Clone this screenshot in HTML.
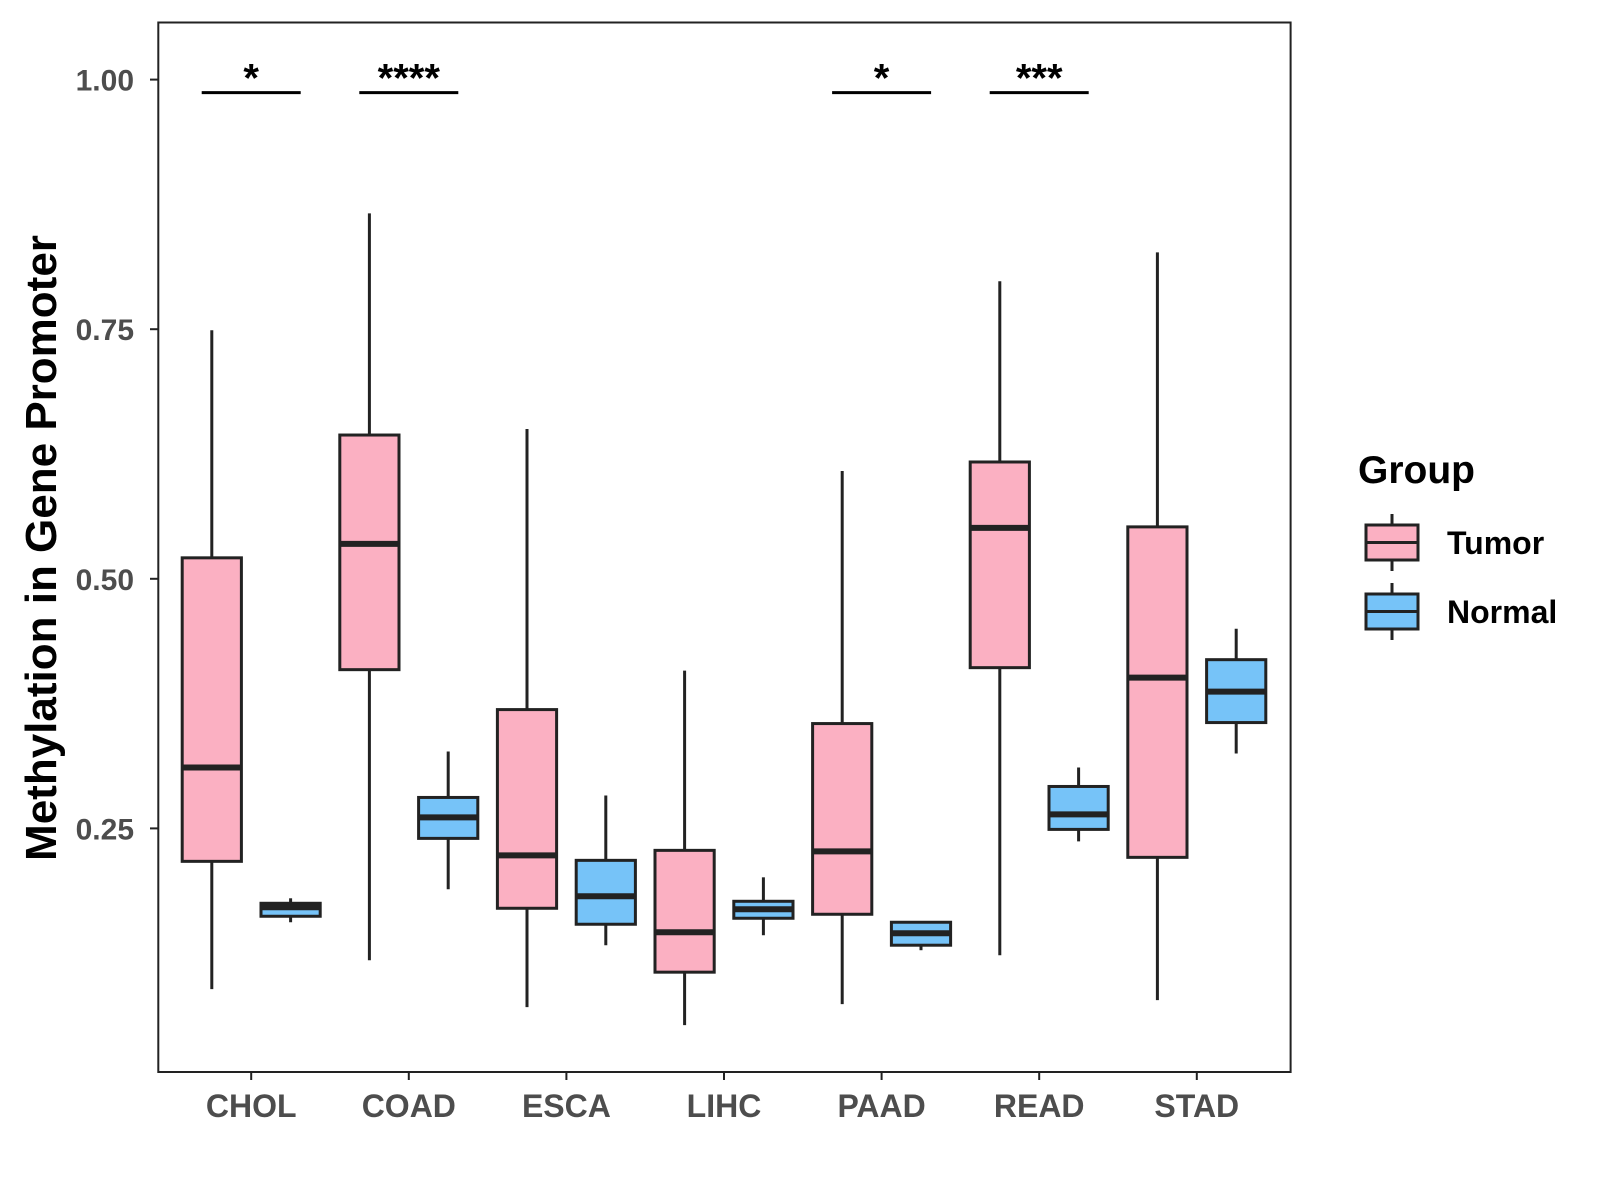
<!DOCTYPE html>
<html><head><meta charset="utf-8"><style>body{margin:0;background:#fff}svg{display:block}text{font-family:"Liberation Sans",Arial,sans-serif;font-weight:bold}</style></head>
<body>
<svg id="chart" width="1600" height="1200">
<rect x="158.3" y="22.5" width="1132.3" height="1049.5" fill="#fff" stroke="#222" stroke-width="2"/>
<g id="marks"></g>
<text transform="translate(56,548) rotate(-90)" text-anchor="middle" font-size="44" fill="#000">Methylation in Gene Promoter</text>
<g>
<text x="1358" y="483" font-size="39" fill="#000">Group</text>
<g>
<line x1="1392" y1="514" x2="1392" y2="571" stroke="#222" stroke-width="3"/>
<rect x="1366" y="525" width="52" height="35" fill="#FBB0C2" stroke="#222" stroke-width="3"/>
<line x1="1366" y1="542.5" x2="1418" y2="542.5" stroke="#222" stroke-width="3"/>
<text x="1447" y="554" font-size="32" fill="#000">Tumor</text></g>
<g>
<line x1="1392" y1="583" x2="1392" y2="640" stroke="#222" stroke-width="3"/>
<rect x="1366" y="594" width="52" height="35" fill="#76C3F8" stroke="#222" stroke-width="3"/>
<line x1="1366" y1="611.5" x2="1418" y2="611.5" stroke="#222" stroke-width="3"/>
<text x="1447" y="623" font-size="32" fill="#000">Normal</text></g>
</g>
</svg>
<script>
const categories=["CHOL","COAD","ESCA","LIHC","PAAD","READ","STAD"];
const tumorMin=[0.089,0.118,0.071,0.053,0.074,0.123,0.078];
const tumorQ1=[0.217,0.409,0.170,0.106,0.164,0.411,0.221];
const tumorMed=[0.311,0.535,0.223,0.146,0.227,0.551,0.401];
const tumorQ3=[0.521,0.644,0.369,0.228,0.355,0.617,0.552];
const tumorMax=[0.749,0.866,0.650,0.408,0.608,0.798,0.827];
const normalMin=[0.156,0.189,0.133,0.143,0.128,0.237,0.325];
const normalQ1=[0.162,0.240,0.154,0.160,0.133,0.249,0.356];
const normalMed=[0.171,0.261,0.182,0.169,0.145,0.264,0.387];
const normalQ3=[0.175,0.281,0.218,0.177,0.156,0.292,0.419];
const normalMax=[0.180,0.327,0.283,0.201,0.156,0.311,0.450];
const sigLabels=["*","****","","","*","***",""];
const yTicks=[0.25,0.5,0.75,1.0];
const yTickLabels=["0.25","0.50","0.75","1.00"];
const sigLevel=0.987;

const NS="http://www.w3.org/2000/svg";
const g=document.getElementById('marks');
function y(v){return 79.6+(1-v)*998.4;}
function x(i){return 251.2+i*157.6;}
function mk(t,a,p){const e=document.createElementNS(NS,t);for(const k in a)e.setAttribute(k,a[k]);(p||g).appendChild(e);return e;}
yTicks.forEach((v,i)=>{
 const t=mk('line',{x1:150,x2:158.3,y1:y(v),y2:y(v),stroke:'#222','stroke-width':2});
 
 
 const l=mk('text',{x:134,y:y(v)+11,'text-anchor':'end','font-size':30,fill:'#4d4d4d'});
 l.textContent=yTickLabels[i];
 
 
});
categories.forEach((c,i)=>{
 const t=mk('line',{x1:x(i),x2:x(i),y1:1072,y2:1080,stroke:'#222','stroke-width':2});
 
 
 const l=mk('text',{x:x(i),y:1117,'text-anchor':'middle','font-size':32,fill:'#4d4d4d'});
 l.textContent=c;
 
 
 const groups=[[-39.4,'#FBB0C2',tumorMin,tumorQ1,tumorMed,tumorQ3,tumorMax,'tumor'],[39.4,'#76C3F8',normalMin,normalQ1,normalMed,normalQ3,normalMax,'normal']];
 groups.forEach(gr=>{
  const cx=x(i)+gr[0];
  const bg=mk('g',{});
  
  
  mk('line',{x1:cx,x2:cx,y1:y(gr[6][i]),y2:y(gr[2][i]),stroke:'#222','stroke-width':3},bg);
  mk('rect',{x:cx-29.6,y:y(gr[5][i]),width:59.2,height:y(gr[3][i])-y(gr[5][i]),fill:gr[1],stroke:'#222','stroke-width':3},bg);
  mk('line',{x1:cx-29.6,x2:cx+29.6,y1:y(gr[4][i]),y2:y(gr[4][i]),stroke:'#222','stroke-width':6},bg);
 });
 if(sigLabels[i]){
  const s=mk('g',{});
  
  
  mk('line',{x1:x(i)-49.5,x2:x(i)+49.5,y1:y(sigLevel),y2:y(sigLevel),stroke:'#000','stroke-width':3},s);
  const st=mk('text',{x:x(i),y:y(sigLevel)-1,'text-anchor':'middle','font-size':40,fill:'#000'},s);
  st.textContent=sigLabels[i];
 }
});
</script>
</body></html>
